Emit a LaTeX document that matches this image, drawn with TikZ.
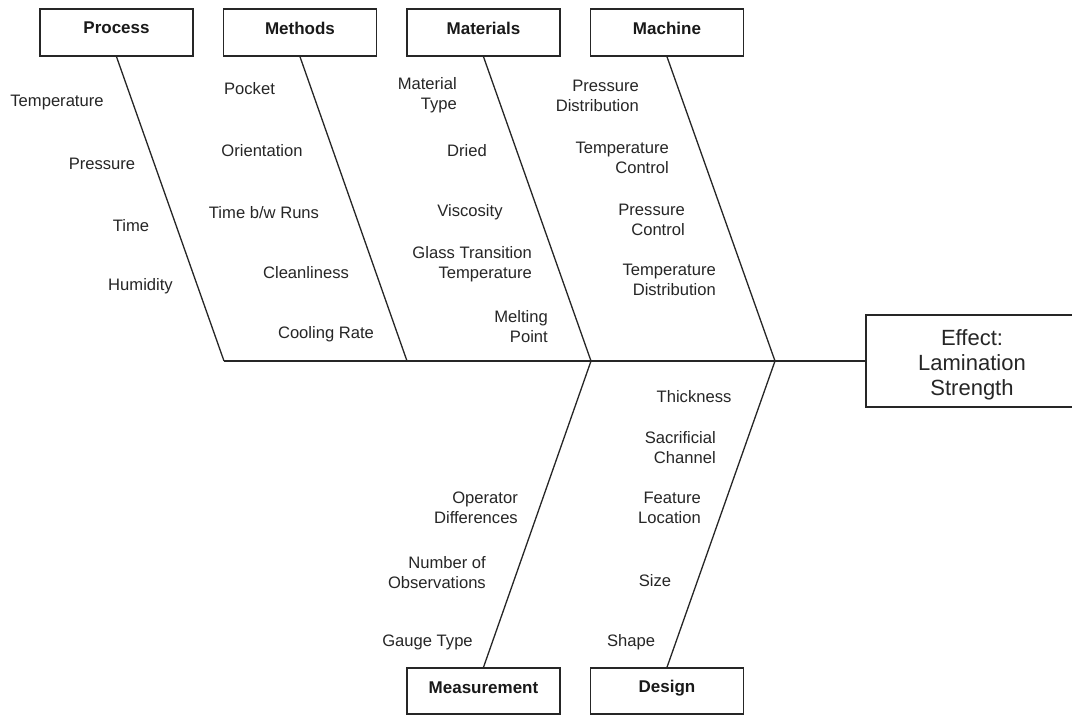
\documentclass[tikz,border=0pt]{standalone}
\usepackage{fontspec}
\setmainfont{Liberation Sans}
\begin{document}
\begin{tikzpicture}[x=1pt,y=-1pt,
  bone/.style={draw=black!85, line width=1.3pt},
  catbox/.style={draw=black!85, line width=1.5pt, minimum width=153pt, minimum height=47pt, inner sep=0pt},
  cattext/.style={font=\fontsize{17}{20}\selectfont\bfseries, text=black!90, inner sep=0pt, yshift=-1pt},
  cause/.style={font=\fontsize{16.6}{20}\selectfont, text=black!85, inner sep=0pt, align=center, yshift=-2.5pt},
  rcause/.style={cause, align=right, anchor=east, yshift=2pt},
  effbox/.style={draw=black!85, line width=1.5pt, minimum width=212pt, minimum height=92pt, inner sep=0pt},
  efftext/.style={font=\fontsize{22}{25}\selectfont, text=black!85, inner sep=0pt, align=center, yshift=-2pt}
]
\useasboundingbox (0,0) rectangle (1072,715);
\fill[white] (0,0) rectangle (1072,715);
\begin{scope}
\clip (0,0) rectangle (1072,715);

% category boxes
\node[catbox] (proc) at (116.5,32.5) {};
\node[catbox] (meth) at (300,32.5) {};
\node[catbox] (mat)  at (483.5,32.5) {};
\node[catbox] (mach) at (667,32.5) {};
\node[catbox, minimum height=46pt] (meas) at (483.5,691) {};
\node[catbox, minimum height=46pt] (des)  at (667,691) {};
\node[cattext] (procT) at (116.5,27) {Process};
\node[cattext] (methT) at (300,27) {Methods};
\node[cattext] (matT)  at (483.5,27) {Materials};
\node[cattext] (machT) at (667,27) {Machine};
\node[cattext] (measT) at (483.5,687) {Measurement};
\node[cattext] (desT)  at (667,687) {Design};

% effect
\node[effbox] (eff) at (972,361) {};
\node[efftext] (effT) at (972,363) {Effect:\\Lamination\\Strength};

% spine junctions
\coordinate (j1) at (224,361);
\coordinate (j2) at (407,361);
\coordinate (j3) at (591,361);
\coordinate (j4) at (775,361);

\draw[bone] (j1) -- (eff.west);
\draw[bone] (proc.south) -- (j1);
\draw[bone] (meth.south) -- (j2);
\draw[bone] (mat.south) -- (j3);
\draw[bone] (mach.south) -- (j4);
\draw[bone] (j3) -- (meas.north);
\draw[bone] (j4) -- (des.north);

% Process causes
\node[cause] (p1) at (57,100) {Temperature};
\node[cause] (p2) at (102,161) {Pressure};
\node[cause] (p3) at (131,223) {Time};
\node[cause] (p4) at (140.5,284) {Humidity};

% Methods causes
\node[cause] (m1) at (249.5,86) {Pocket};
\node[cause] (m2) at (262,148) {Orientation};
\node[cause] (m3) at (264,210) {Time b/w Runs};
\node[cause] (m4) at (306,270) {Cleanliness};
\node[cause] (m5) at (326,332) {Cooling Rate};

% Materials causes
\node[rcause] (a1) at (457,95) {Material\\Type};
\node[cause] (a2) at (467,148) {Dried};
\node[cause] (a3) at (470,210) {Viscosity};
\node[rcause] (a4) at (532,264) {Glass Transition\\Temperature};
\node[rcause] (a5) at (548,326) {Melting\\Point};

% Machine causes
\node[rcause] (c1) at (639,95) {Pressure\\Distribution};
\node[rcause] (c2) at (669,157) {Temperature\\Control};
\node[rcause] (c3) at (685,219) {Pressure\\Control};
\node[rcause] (c4) at (716,279) {Temperature\\Distribution};

% Measurement causes
\node[rcause] (s1) at (518,507) {Operator\\Differences};
\node[rcause] (s2) at (486,572) {Number of\\Observations};
\node[cause] (s3) at (427.5,640) {Gauge Type};

% Design causes
\node[cause] (d1) at (694,394) {Thickness};
\node[rcause] (d2) at (716,447) {Sacrificial\\Channel};
\node[rcause] (d3) at (701,507) {Feature\\Location};
\node[cause] (d4) at (655,578) {Size};
\node[cause] (d5) at (631,640) {Shape};
\end{scope}
\end{tikzpicture}
\end{document}
